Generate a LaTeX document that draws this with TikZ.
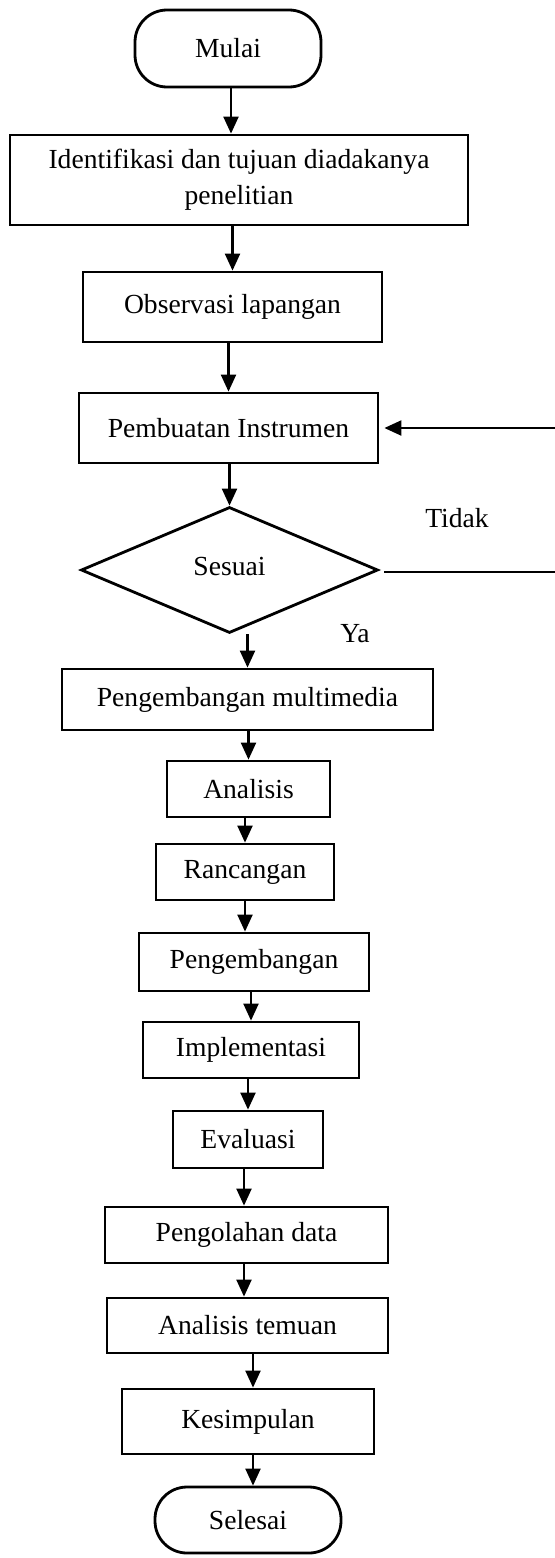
\documentclass[tikz,border=0pt]{standalone}
\usepackage{fontspec}
\setmainfont{Liberation Serif}
\usetikzlibrary{shapes.geometric,arrows.meta}
\tikzset{
  % Node styles for the flowchart: terminal, process and decision
  terminal node/.style={rectangle,draw,rounded corners=16pt,line width=1.4pt,inner sep=0},
  process node/.style={rectangle,draw,line width=1.4pt,inner sep=0,align=center},
  decision node/.style={diamond,draw,line width=1.4pt,inner sep=0,aspect=2.36},
  flow line/.style={-{Triangle[width=7.5pt,length=8.5pt]},line width=1.1pt},
  back line/.style={line width=0.6pt}
}
\begin{document}
\begin{tikzpicture}[x=0.5pt,y=-0.5pt,font=\fontsize{13.8}{18}\selectfont]
  \useasboundingbox (0,0) rectangle (555,1558);
  % The steps, top to bottom
  \node(mulai)[terminal node,minimum width=93pt,minimum height=38.5pt] at (228,48.5) {Mulai};
  \node(ident)[process node,minimum width=229pt,minimum height=45pt] at (239,180)
    {Identifikasi dan tujuan diadakanya\\penelitian};
  \node(obs)[process node,minimum width=149.5pt,minimum height=35pt] at (232.5,307) {Observasi lapangan};
  \node(pemb)[process node,minimum width=149.5pt,minimum height=35pt] at (228.5,428) {Pembuatan Instrumen};
  \node(sesuai)[decision node,minimum width=148.5pt,minimum height=63pt] at (229.5,570) {\raisebox{4pt}{Sesuai}};
  \node(pmm)[process node,minimum width=185.5pt,minimum height=30.5pt] at (247.5,699.5) {Pengembangan multimedia};
  \node(anal)[process node,minimum width=81.5pt,minimum height=28pt] at (248.5,789) {Analisis};
  \node(ranc)[process node,minimum width=89pt,minimum height=28pt] at (245,872) {Rancangan};
  \node(peng)[process node,minimum width=115pt,minimum height=29pt] at (254,962) {Pengembangan};
  \node(impl)[process node,minimum width=108pt,minimum height=28pt] at (251,1050) {Implementasi};
  \node(eval)[process node,minimum width=75pt,minimum height=28.5pt] at (248,1139.5) {Evaluasi};
  \node(olah)[process node,minimum width=141.5pt,minimum height=28pt] at (246.5,1235) {Pengolahan data};
  \node(temu)[process node,minimum width=140.5pt,minimum height=27.5pt] at (247.5,1325.5) {Analisis temuan};
  \node(simp)[process node,minimum width=126pt,minimum height=32.5pt] at (248,1421.5) {Kesimpulan};
  \node(selesai)[terminal node,minimum width=93pt,minimum height=33pt] at (248,1520) {Selesai};
  % Branch labels
  \node(tidak) at (457,518) {Tidak};
  \node(ya) at (355,634) {Ya};
  % Arrows down the chart
  \draw[flow line] (mulai.south -| 231,0) -- (ident.north -| 231,0);
  \draw[flow line] (ident.south -| obs.north) -- (obs.north);
  \draw[flow line] (obs.south -| pemb.north) -- (pemb.north);
  \draw[flow line] (pemb.south -| sesuai.north) -- (sesuai.north);
  \draw[flow line] (sesuai.south -| pmm.north) -- (pmm.north);
  \draw[flow line] (pmm.south -| anal.north) -- (anal.north);
  \draw[flow line] (anal.south -| ranc.north) -- (ranc.north);
  \draw[flow line] (ranc.south -| ranc.north) -- (ranc.south |- peng.north);
  \draw[flow line] (peng.south -| impl.north) -- (impl.north);
  \draw[flow line] (impl.south -| eval.north) -- (eval.north);
  \draw[flow line] (eval.south -| 244,0) -- (olah.north -| 244,0);
  \draw[flow line] (olah.south -| 244,0) -- (temu.north -| 244,0);
  \draw[flow line] (temu.south -| 253,0) -- (simp.north -| 253,0);
  \draw[flow line] (simp.south -| 253,0) -- (selesai.north -| 253,0);
  % Back to the instrument when it does not fit
  \coordinate(back top) at (555,428);
  \coordinate(back bottom) at (555,572);
  \draw[back line,shorten <=2.5pt] (sesuai.east |- back bottom) -- (back bottom);
  \draw[flow line,shorten >=2.5pt] (back top) -- (pemb.east);
\end{tikzpicture}
\end{document}
